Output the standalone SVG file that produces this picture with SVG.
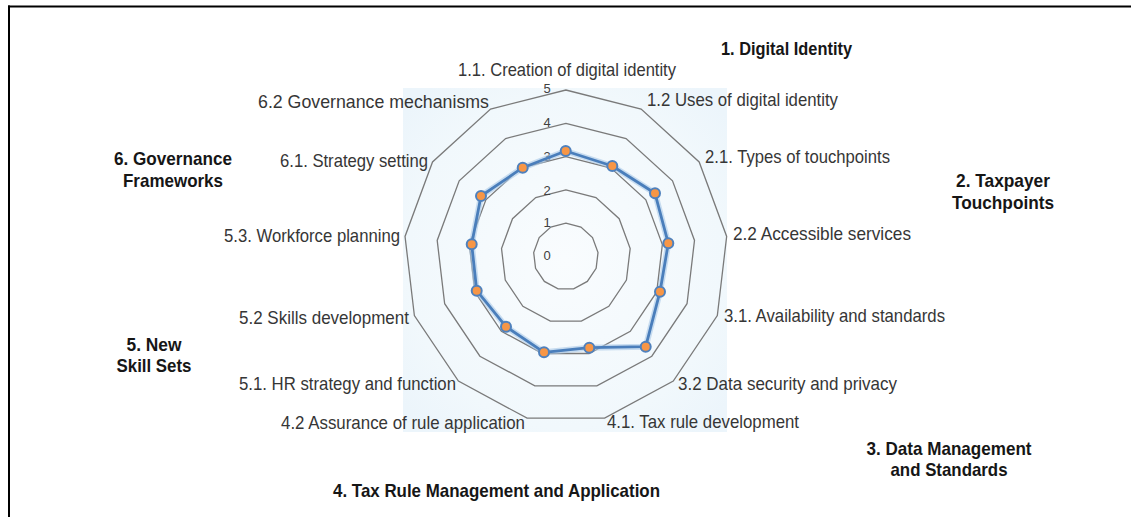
<svg xmlns="http://www.w3.org/2000/svg" width="1131" height="517" viewBox="0 0 1131 517">
  <style>
    .axis { font-family: "Liberation Sans", Arial, sans-serif; font-size: 18.5px; fill: #363636; }
    .grp { font-family: "Liberation Sans", Arial, sans-serif; font-size: 18.5px; font-weight: bold; fill: #161616; }
    .tick { font-family: "Liberation Sans", Arial, sans-serif; font-size: 13px; fill: #404040; text-anchor: middle; }
    .ring { fill: none; stroke: #7a7a7a; stroke-width: 1.3; vector-effect: non-scaling-stroke; }
    .dot { fill: #f79646; stroke: #4f81bd; stroke-width: 2; }
  </style>
  <defs>
    <radialGradient id="bg" cx="0.5" cy="0.5" r="0.65">
      <stop offset="0" stop-color="#f9fcfe"/>
      <stop offset="0.75" stop-color="#f1f8fc"/>
      <stop offset="1" stop-color="#ecf5fb"/>
    </radialGradient>
  </defs>
  <rect width="1131" height="517" fill="#ffffff"/>
  <!-- frame -->
  <line x1="8" y1="6.5" x2="1131" y2="6.5" stroke="#000" stroke-width="2"/>
  <line x1="9" y1="5.5" x2="9" y2="517" stroke="#000" stroke-width="2"/>

  <!-- plot area -->
  <rect id="plot-area" x="403" y="88" width="324" height="344" fill="url(#bg)"/>

  <!-- grid rings -->
  <g id="grid">
    <polygon class="ring" transform="translate(565.85 256.5) scale(0.324 0.333)" points="0,-100 46.472,-88.546 82.298,-56.806 99.271,-12.054 93.502,35.46 66.312,74.851 23.932,97.094 -23.932,97.094 -66.312,74.851 -93.502,35.46 -99.271,-12.054 -82.298,-56.806 -46.472,-88.546"/>
    <polygon class="ring" transform="translate(565.85 256.5) scale(0.648 0.666)" points="0,-100 46.472,-88.546 82.298,-56.806 99.271,-12.054 93.502,35.46 66.312,74.851 23.932,97.094 -23.932,97.094 -66.312,74.851 -93.502,35.46 -99.271,-12.054 -82.298,-56.806 -46.472,-88.546"/>
    <polygon class="ring" transform="translate(565.85 256.5) scale(0.972 0.999)" points="0,-100 46.472,-88.546 82.298,-56.806 99.271,-12.054 93.502,35.46 66.312,74.851 23.932,97.094 -23.932,97.094 -66.312,74.851 -93.502,35.46 -99.271,-12.054 -82.298,-56.806 -46.472,-88.546"/>
    <polygon class="ring" transform="translate(565.85 256.5) scale(1.296 1.332)" points="0,-100 46.472,-88.546 82.298,-56.806 99.271,-12.054 93.502,35.46 66.312,74.851 23.932,97.094 -23.932,97.094 -66.312,74.851 -93.502,35.46 -99.271,-12.054 -82.298,-56.806 -46.472,-88.546"/>
    <polygon class="ring" transform="translate(565.85 256.5) scale(1.62 1.665)" points="0,-100 46.472,-88.546 82.298,-56.806 99.271,-12.054 93.502,35.46 66.312,74.851 23.932,97.094 -23.932,97.094 -66.312,74.851 -93.502,35.46 -99.271,-12.054 -82.298,-56.806 -46.472,-88.546"/>
    <text class="tick" x="547" y="260">0</text>
    <text class="tick" x="547" y="227">1</text>
    <text class="tick" x="547" y="195">2</text>
    <text class="tick" x="547" y="161">3</text>
    <text class="tick" x="547" y="127">4</text>
    <text class="tick" x="547" y="93">5</text>
  </g>

  <!-- data series -->
  <g id="connectors">
    <polygon points="565.7,151 612.3,166 655,193.3 668.3,243.3 660,291.7 645.7,346.7 589.3,347.7 544,352.3 506,326.7 476.7,290.7 471.7,244.3 481,196 522.7,167.7" fill="none" stroke="#a9c8e8" stroke-width="6" stroke-linejoin="round" opacity="0.6"/>
    <polygon points="565.7,151 612.3,166 655,193.3 668.3,243.3 660,291.7 645.7,346.7 589.3,347.7 544,352.3 506,326.7 476.7,290.7 471.7,244.3 481,196 522.7,167.7" fill="none" stroke="#4a7ebb" stroke-width="2.8" stroke-linejoin="round"/>
  </g>
  <g id="markers">
    <circle class="dot" cx="565.7" cy="151" r="5"/>
    <circle class="dot" cx="612.3" cy="166" r="5"/>
    <circle class="dot" cx="655" cy="193.3" r="5"/>
    <circle class="dot" cx="668.3" cy="243.3" r="5"/>
    <circle class="dot" cx="660" cy="291.7" r="5"/>
    <circle class="dot" cx="645.7" cy="346.7" r="5"/>
    <circle class="dot" cx="589.3" cy="347.7" r="5"/>
    <circle class="dot" cx="544" cy="352.3" r="5"/>
    <circle class="dot" cx="506" cy="326.7" r="5"/>
    <circle class="dot" cx="476.7" cy="290.7" r="5"/>
    <circle class="dot" cx="471.7" cy="244.3" r="5"/>
    <circle class="dot" cx="481" cy="196" r="5"/>
    <circle class="dot" cx="522.7" cy="167.7" r="5"/>
  </g>

  <!-- axis labels -->
  <g id="axis-1-1"><text class="axis" x="458" y="76" textLength="218" lengthAdjust="spacingAndGlyphs">1.1. Creation of digital identity</text></g>
  <g id="axis-1-2"><text class="axis" x="647" y="106" textLength="191" lengthAdjust="spacingAndGlyphs">1.2 Uses of digital identity</text></g>
  <g id="axis-2-1"><text class="axis" x="705" y="163" textLength="185" lengthAdjust="spacingAndGlyphs">2.1. Types of touchpoints</text></g>
  <g id="axis-2-2"><text class="axis" x="733" y="240" textLength="178" lengthAdjust="spacingAndGlyphs">2.2 Accessible services</text></g>
  <g id="axis-3-1"><text class="axis" x="724" y="322" textLength="221" lengthAdjust="spacingAndGlyphs">3.1. Availability and standards</text></g>
  <g id="axis-3-2"><text class="axis" x="678" y="390" textLength="219" lengthAdjust="spacingAndGlyphs">3.2 Data security and privacy</text></g>
  <g id="axis-4-1"><text class="axis" x="607" y="428" textLength="192" lengthAdjust="spacingAndGlyphs">4.1. Tax rule development</text></g>
  <g id="axis-4-2"><text class="axis" x="281" y="429" textLength="244" lengthAdjust="spacingAndGlyphs">4.2 Assurance of rule application</text></g>
  <g id="axis-5-1"><text class="axis" x="239" y="390" textLength="217" lengthAdjust="spacingAndGlyphs">5.1. HR strategy and function</text></g>
  <g id="axis-5-2"><text class="axis" x="239" y="324" textLength="170" lengthAdjust="spacingAndGlyphs">5.2 Skills development</text></g>
  <g id="axis-5-3"><text class="axis" x="224" y="242" textLength="176" lengthAdjust="spacingAndGlyphs">5.3. Workforce planning</text></g>
  <g id="axis-6-1"><text class="axis" x="280" y="167" textLength="148" lengthAdjust="spacingAndGlyphs">6.1. Strategy setting</text></g>
  <g id="axis-6-2"><text class="axis" x="258" y="108" textLength="231" lengthAdjust="spacingAndGlyphs">6.2 Governance mechanisms</text></g>

  <!-- group labels -->
  <g id="group-1"><text class="grp" x="721" y="55" textLength="131" lengthAdjust="spacingAndGlyphs">1. Digital Identity</text></g>
  <g id="group-2" text-anchor="middle">
    <text class="grp" x="1003" y="187" textLength="94" lengthAdjust="spacingAndGlyphs">2. Taxpayer</text>
    <text class="grp" x="1003" y="209" textLength="102" lengthAdjust="spacingAndGlyphs">Touchpoints</text>
  </g>
  <g id="group-3" text-anchor="middle">
    <text class="grp" x="949" y="455" textLength="165" lengthAdjust="spacingAndGlyphs">3. Data Management</text>
    <text class="grp" x="949" y="476" textLength="117" lengthAdjust="spacingAndGlyphs">and Standards</text>
  </g>
  <g id="group-4" text-anchor="middle">
    <text class="grp" x="496.5" y="497" textLength="327" lengthAdjust="spacingAndGlyphs">4. Tax Rule Management and Application</text>
  </g>
  <g id="group-5" text-anchor="middle">
    <text class="grp" x="154" y="351" textLength="55" lengthAdjust="spacingAndGlyphs">5. New</text>
    <text class="grp" x="154" y="372" textLength="75" lengthAdjust="spacingAndGlyphs">Skill Sets</text>
  </g>
  <g id="group-6" text-anchor="middle">
    <text class="grp" x="173" y="165" textLength="118" lengthAdjust="spacingAndGlyphs">6. Governance</text>
    <text class="grp" x="173" y="187" textLength="100" lengthAdjust="spacingAndGlyphs">Frameworks</text>
  </g>
</svg>
